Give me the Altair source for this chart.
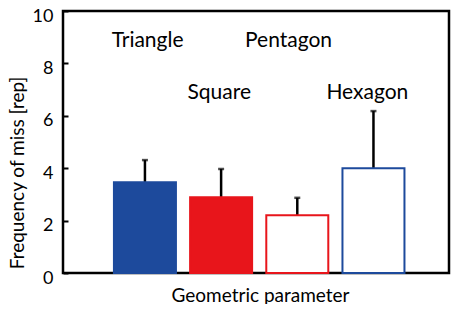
import altair as alt
import pandas as pd

shapes = ["Triangle", "Square", "Pentagon", "Hexagon"]
positions = [1, 2, 3, 4]
means = [3.46, 2.89, 2.20, 4.00]
errors = [0.85, 1.08, 0.67, 2.18]
fill_colors = ["#1d4a9c", "#e8151b", "#ffffff", "#ffffff"]
stroke_colors = ["#1d4a9c", "#e8151b", "#e8151b", "#1d4a9c"]
label_x = [1.035, 1.975, 2.885, 3.92]
label_y = [8.64, 6.64, 8.64, 6.64]
y_ticks = [0, 2, 4, 6, 8, 10]

df = pd.DataFrame({
    "shape": shapes,
    "pos": positions,
    "mean": means,
    "upper": [m + e for m, e in zip(means, errors)],
    "lx": label_x,
    "ly": label_y,
})

FONT = "Lato"
W = 386
H = 262

xscale = alt.Scale(domain=[-0.01, 4.926], nice=False, zero=False)
yscale = alt.Scale(domain=[0, 10], nice=False)

x_enc = alt.X("pos:Q", scale=xscale,
              axis=alt.Axis(title="Geometric parameter", labels=False, ticks=False,
                            domain=False, grid=False, titleFont=FONT, titleFontSize=19,
                            titleFontWeight="normal", titleColor="black",
                            titleX=197, titleY=28, titleBaseline="alphabetic",
                            titleAlign="center"))
y_enc = alt.Y("mean:Q", scale=yscale,
              axis=alt.Axis(title="Frequency of miss [rep]", values=y_ticks, grid=False,
                            domain=False, offset=-5, tickSize=5, tickWidth=2,
                            tickColor="black", labelPadding=10, labelFont=FONT,
                            labelFontSize=18, labelColor="black", labelFlush=False,
                            labelBaseline="alphabetic", labelOffset=10,
                            titleFont=FONT, titleFontSize=19, titleFontWeight="normal",
                            titleColor="black", titleX=-45, titleY=161.5,
                            titleAngle=270, titleBaseline="alphabetic",
                            titleAlign="center"))

color_fill = alt.Color("shape:N", scale=alt.Scale(domain=shapes, range=fill_colors), legend=None)
color_stroke = alt.Stroke("shape:N", scale=alt.Scale(domain=shapes, range=stroke_colors), legend=None)

err_rule = alt.Chart(df).mark_rule(color="black", strokeWidth=2.5).encode(
    x=x_enc, y=y_enc, y2="upper:Q")
err_cap = alt.Chart(df).mark_tick(color="black", orient="horizontal", size=6,
                                  thickness=2.5).encode(
    x="pos:Q", y="upper:Q")
bars = alt.Chart(df).mark_bar(size=62, strokeWidth=2, opacity=1).encode(
    x="pos:Q", y="mean:Q", color=color_fill, stroke=color_stroke)
labels = alt.Chart(df).mark_text(font=FONT, fontSize=21, color="black",
                                 align="center", baseline="alphabetic").encode(
    x="lx:Q", y="ly:Q", text="shape:N")

chart = alt.layer(err_rule, err_cap, bars, labels).properties(
    width=W, height=H,
    background="white",
    autosize=alt.AutoSizeParams(type="none"),
    padding={"left": 55, "top": 3, "right": 2, "bottom": 31},
).configure_view(stroke="black", strokeWidth=2.5)

chart.save("out.html", embed_options={"renderer": "svg", "actions": False})
